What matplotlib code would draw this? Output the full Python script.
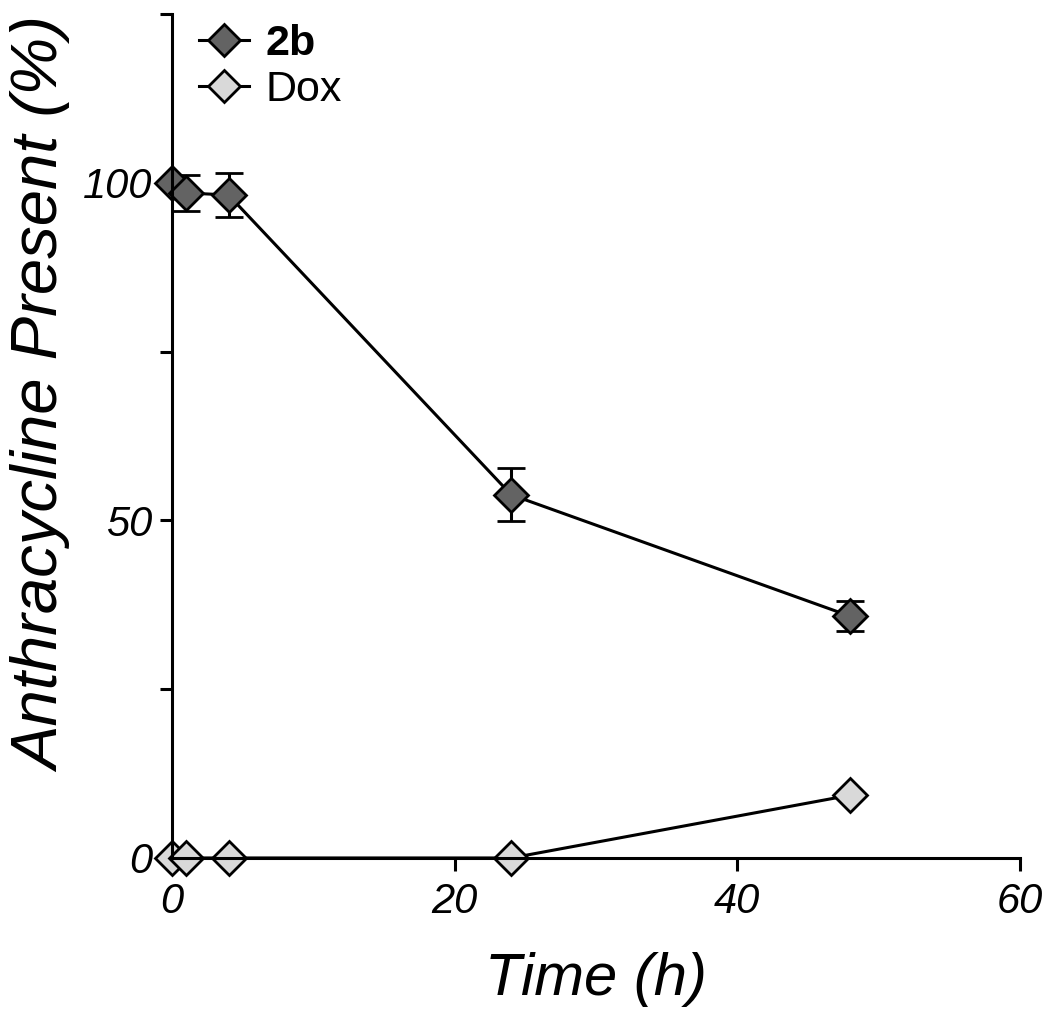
import matplotlib
matplotlib.use("Agg")
import matplotlib.pyplot as plt
from matplotlib.lines import Line2D
import numpy as np

plt.rcParams['font.family'] = ['Liberation Sans', 'DejaVu Sans']
plt.rcParams['font.style'] = 'italic'

# data
time_2b = [0, 1, 4, 24, 48]
pct_2b = [100.0, 98.5, 98.2, 53.8, 35.8]
err_2b = [0.0, 2.7, 3.2, 3.9, 2.2]

time_dox = [0, 1, 4, 24, 48]
pct_dox = [0.0, 0.0, 0.0, 0.0, 9.3]

x_ticks = [0, 20, 40, 60]
y_major = [0, 50, 100]
y_minor = [25, 75, 125]

C_2B = '#636363'
C_DOX = '#d9d9d9'

fig = plt.figure(figsize=(10.5, 10.18), dpi=100)
ax = fig.add_axes([0.1638, 0.1572, 0.8076, 0.8290])

mk = dict(marker='D', markersize=17, markeredgecolor='black',
          markeredgewidth=2.0, color='black', linewidth=2.2, clip_on=False)

ax.errorbar(time_2b, pct_2b, yerr=err_2b, markerfacecolor=C_2B,
            ecolor='black', elinewidth=2.2, capsize=10, capthick=2.2,
            zorder=3, **mk)
ax.plot(time_dox, pct_dox, markerfacecolor=C_DOX, zorder=3, **mk)

ax.set_xlim(0, 60)
ax.set_ylim(0, 125)
ax.set_xticks(x_ticks)
ax.set_yticks(y_major)
ax.set_yticks(y_minor, minor=True)
ax.tick_params(which='both', direction='out', length=9, width=2.2,
               labelsize=30, pad=5)
ax.tick_params(axis='x', pad=8)
for lab in ax.get_xticklabels() + ax.get_yticklabels():
    lab.set_fontstyle('italic')

for s in ['top', 'right']:
    ax.spines[s].set_visible(False)
for s in ['left', 'bottom']:
    ax.spines[s].set_linewidth(2.2)
    ax.spines[s].set_zorder(4)

ax.set_xlabel('Time (h)', fontsize=43, fontstyle='italic')
ax.xaxis.set_label_coords(0.5, -0.112)
ax.set_ylabel('Anthracycline Present (%)', fontsize=47, fontstyle='italic')
ax.yaxis.set_label_coords(-0.116, 0.549)

handles = [
    Line2D([], [], marker='D', markersize=16, markerfacecolor=C_2B,
           markeredgecolor='black', markeredgewidth=2.0, color='black', linewidth=2.2),
    Line2D([], [], marker='D', markersize=16, markerfacecolor=C_DOX,
           markeredgecolor='black', markeredgewidth=2.0, color='black', linewidth=2.2),
]
leg = ax.legend(handles, ['2b', 'Dox'], loc='upper left',
                bbox_to_anchor=(0.032, 0.988), frameon=False,
                fontsize=31, handlelength=1.15, handletextpad=0.4,
                labelspacing=0.14, borderpad=0, borderaxespad=0)
for t in leg.get_texts():
    t.set_fontstyle('normal')
leg.get_texts()[0].set_fontweight('bold')

fig.savefig('out.png', dpi=100)
